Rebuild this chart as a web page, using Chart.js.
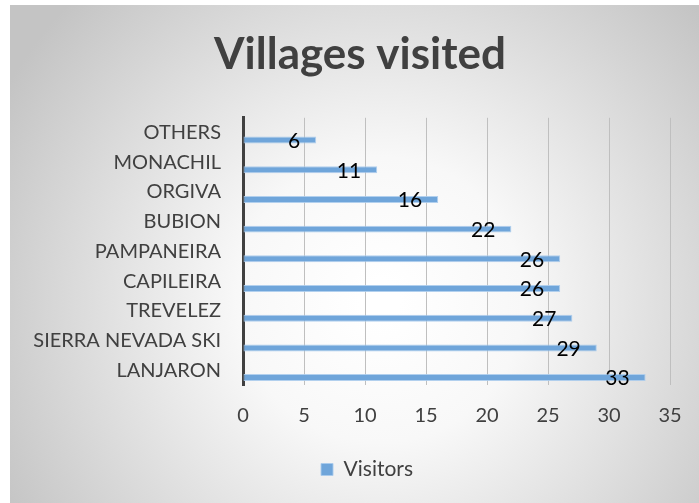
<!DOCTYPE html>
<html lang="en">
<head>
<meta charset="UTF-8">
<title>Villages visited</title>
<script src="https://cdn.jsdelivr.net/npm/chart.js"></script>
<style>
  html, body { margin: 0; padding: 0; background: #fff; }
  #wrap { width: 699px; height: 503px; position: relative; }
</style>
</head>
<body>
<div id="wrap"><canvas id="villagesChart"></canvas></div>
<script>
// data
const villages = ['OTHERS', 'MONACHIL', 'ORGIVA', 'BUBION', 'PAMPANEIRA', 'CAPILEIRA', 'TREVELEZ', 'SIERRA NEVADA SKI', 'LANJARON'];
const visitors = [6, 11, 16, 22, 26, 26, 27, 29, 33];
const emptySeries = [null, null, null, null, null, null, null, null, null];
const xTicks = [0, 5, 10, 15, 20, 25, 30, 35];

const FONT = 'Lato, "Open Sans", sans-serif';

// gray radial background box, like the Excel chart area
const bgPlugin = {
  id: 'bg',
  beforeDraw(chart) {
    const ctx = chart.ctx;
    ctx.save();
    const g = ctx.createRadialGradient(380, 300, 20, 380, 300, 430);
    g.addColorStop(0, '#ffffff');
    g.addColorStop(0.3, '#f8f8f8');
    g.addColorStop(1, '#c4c4c4');
    ctx.fillStyle = g;
    ctx.fillRect(10, 5, chart.width - 10, chart.height - 5);
    ctx.restore();
  }
};

// Excel centres title and legend a bit right of the canvas middle
const shiftPlugin = {
  id: 'shiftBoxes',
  afterLayout(chart) {
    if (chart.titleBlock) { chart.titleBlock.left += 25; chart.titleBlock.right += 25; }
    if (chart.legend) { chart.legend.left += 32; chart.legend.right += 32; }
  }
};

// value labels sitting just inside the bar end
const labelPlugin = {
  id: 'valueLabels',
  afterDatasetsDraw(chart) {
    const ctx = chart.ctx;
    const meta = chart.getDatasetMeta(1);
    ctx.save();
    ctx.font = '21px ' + FONT;
    ctx.fillStyle = '#000';
    ctx.textAlign = 'right';
    ctx.textBaseline = 'middle';
    meta.data.forEach((bar, i) => {
      ctx.fillText(String(visitors[i]), bar.x - 16, bar.y + 1);
    });
    ctx.restore();
  }
};

new Chart(document.getElementById('villagesChart'), {
  type: 'bar',
  data: {
    labels: villages,
    datasets: [
      {
        label: '',
        data: emptySeries,
        backgroundColor: 'rgba(0,0,0,0)'
      },
      {
        label: 'Visitors',
        data: visitors,
        backgroundColor: '#6fa5da',
        borderColor: 'rgba(170,203,236,0.9)',
        borderWidth: 1,
        borderSkipped: false
      }
    ]
  },
  options: {
    indexAxis: 'y',
    responsive: true,
    maintainAspectRatio: false,
    animation: false,
    categoryPercentage: 1.0,
    barPercentage: 0.47,
    layout: { padding: { left: 0, right: 29, top: 5, bottom: 13 } },
    scales: {
      x: {
        min: 0,
        max: 35,
        afterBuildTicks(scale) {
          scale.ticks = xTicks.map(v => ({ value: v }));
        },
        afterFit(scale) {
          scale.height = 54;
          scale.paddingRight = 0;
        },
        grid: { color: '#bfbfbf', lineWidth: 1, drawTicks: false },
        border: { display: false },
        ticks: { color: '#404040', font: { family: FONT, size: 20 }, padding: 19 }
      },
      y: {
        afterFit(scale) { scale.width = 243; },
        grid: { display: false, drawTicks: false },
        border: { display: true, color: '#404040', width: 3 },
        ticks: { color: '#404040', font: { family: FONT, size: 20 }, padding: 22 }
      }
    },
    plugins: {
      title: {
        display: true,
        text: 'Villages visited',
        color: '#404040',
        font: { family: FONT, size: 44, weight: 'bold' },
        padding: { top: 23, bottom: 37 }
      },
      legend: {
        position: 'bottom',
        labels: {
          filter: item => item.text === 'Visitors',
          color: '#404040',
          font: { family: FONT, size: 21 },
          boxWidth: 12,
          boxHeight: 12,
          padding: 20
        }
      },
      tooltip: { enabled: false }
    }
  },
  plugins: [bgPlugin, shiftPlugin, labelPlugin]
});
</script>
</body>
</html>
